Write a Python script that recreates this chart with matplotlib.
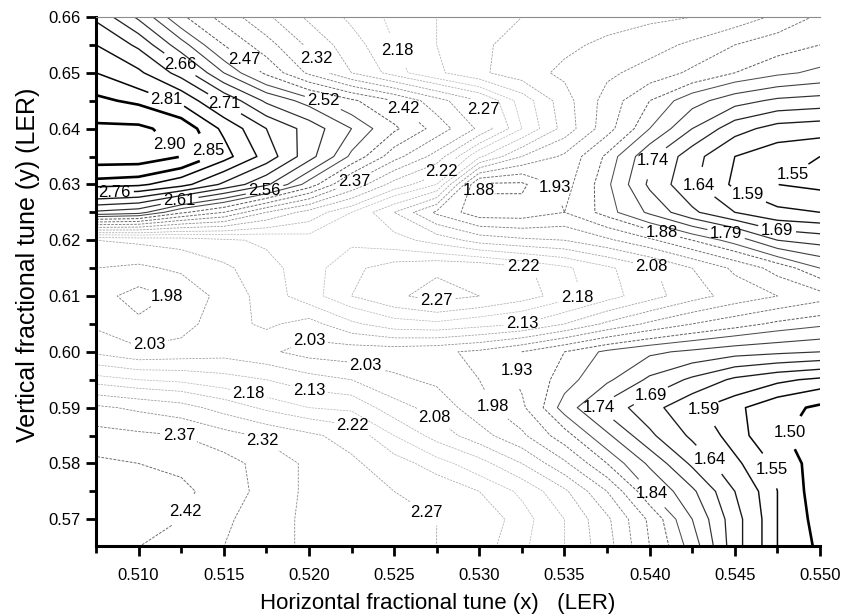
import numpy as np
import matplotlib
matplotlib.use("Agg")
import matplotlib.pyplot as plt
from matplotlib.ticker import MultipleLocator

plt.rcParams['font.family'] = ['Liberation Sans', 'DejaVu Sans']

# grid of tunes (columns = horizontal tune, rows = vertical tune, top row first)
qx = [0.5075, 0.510, 0.5125, 0.515, 0.5175, 0.520, 0.5225, 0.525, 0.5275,
      0.530, 0.5325, 0.535, 0.5375, 0.540, 0.5425, 0.545, 0.5475, 0.550]
qy = [0.660, 0.655, 0.650, 0.645, 0.640, 0.635, 0.630, 0.625, 0.620, 0.615,
      0.610, 0.605, 0.600, 0.595, 0.590, 0.585, 0.580, 0.575, 0.570, 0.565]
lum = [
    [2.70, 2.60, 2.48, 2.40, 2.33, 2.26, 2.21, 2.17, 2.13, 2.10, 2.08, 2.06, 2.05, 2.04, 2.03, 2.01, 1.97, 1.92],
    [2.76, 2.70, 2.58, 2.47, 2.39, 2.31, 2.24, 2.18, 2.13, 2.09, 2.06, 2.04, 2.02, 2.00, 1.97, 1.93, 1.90, 1.88],
    [2.81, 2.77, 2.69, 2.56, 2.46, 2.36, 2.27, 2.20, 2.14, 2.09, 2.05, 2.02, 1.99, 1.96, 1.92, 1.88, 1.85, 1.83],
    [2.86, 2.84, 2.80, 2.70, 2.60, 2.54, 2.48, 2.42, 2.34, 2.27, 2.16, 2.05, 1.96, 1.88, 1.81, 1.76, 1.73, 1.72],
    [2.91, 2.91, 2.88, 2.80, 2.71, 2.64, 2.56, 2.48, 2.40, 2.31, 2.18, 2.06, 1.95, 1.84, 1.74, 1.66, 1.62, 1.61],
    [2.93, 2.93, 2.90, 2.83, 2.74, 2.63, 2.51, 2.39, 2.30, 2.14, 2.03, 1.97, 1.87, 1.75, 1.66, 1.59, 1.56, 1.55],
    [2.83, 2.82, 2.78, 2.70, 2.62, 2.50, 2.36, 2.25, 2.18, 1.87, 1.87, 1.95, 1.85, 1.73, 1.65, 1.58, 1.55, 1.54],
    [2.60, 2.58, 2.48, 2.42, 2.32, 2.25, 2.18, 2.08, 1.97, 1.90, 1.90, 1.93, 1.86, 1.78, 1.70, 1.64, 1.60, 1.59],
    [2.08, 2.09, 2.10, 2.12, 2.14, 2.16, 2.17, 2.15, 2.11, 2.06, 2.04, 2.03, 1.99, 1.94, 1.88, 1.82, 1.74, 1.72],
    [2.03, 2.02, 2.04, 2.07, 2.11, 2.16, 2.21, 2.24, 2.26, 2.26, 2.23, 2.19, 2.14, 2.09, 2.03, 1.97, 1.91, 1.84],
    [2.00, 1.96, 1.99, 2.05, 2.10, 2.16, 2.22, 2.26, 2.29, 2.27, 2.24, 2.20, 2.15, 2.10, 2.05, 2.01, 1.98, 1.95],
    [2.02, 1.99, 2.01, 2.06, 2.09, 2.06, 2.12, 2.16, 2.17, 2.15, 2.13, 2.08, 2.02, 1.97, 1.93, 1.90, 1.87, 1.85],
    [2.07, 2.04, 2.05, 2.06, 2.04, 2.01, 2.00, 2.00, 1.99, 1.97, 1.93, 1.88, 1.83, 1.80, 1.78, 1.76, 1.75, 1.74],
    [2.20, 2.18, 2.17, 2.15, 2.13, 2.10, 2.08, 2.04, 2.02, 1.98, 1.92, 1.86, 1.80, 1.73, 1.68, 1.63, 1.60, 1.58],
    [2.33, 2.31, 2.29, 2.25, 2.21, 2.18, 2.17, 2.10, 2.06, 2.00, 1.94, 1.82, 1.72, 1.66, 1.60, 1.56, 1.52, 1.49],
    [2.39, 2.38, 2.37, 2.34, 2.31, 2.28, 2.25, 2.18, 2.11, 2.05, 1.99, 1.90, 1.80, 1.70, 1.63, 1.57, 1.51, 1.47],
    [2.43, 2.42, 2.41, 2.39, 2.35, 2.31, 2.28, 2.24, 2.20, 2.15, 2.08, 1.99, 1.88, 1.78, 1.68, 1.60, 1.54, 1.47],
    [2.45, 2.44, 2.43, 2.40, 2.35, 2.31, 2.28, 2.27, 2.25, 2.22, 2.17, 2.09, 1.98, 1.84, 1.75, 1.64, 1.55, 1.47],
    [2.45, 2.44, 2.42, 2.38, 2.34, 2.31, 2.29, 2.28, 2.27, 2.25, 2.20, 2.13, 2.04, 1.92, 1.79, 1.66, 1.55, 1.48],
    [2.43, 2.42, 2.40, 2.37, 2.34, 2.31, 2.29, 2.28, 2.27, 2.24, 2.19, 2.13, 2.05, 1.93, 1.82, 1.66, 1.55, 1.49],
]
levels = [1.50, 1.55, 1.59, 1.64, 1.69, 1.74, 1.79, 1.84, 1.88, 1.93, 1.98,
          2.03, 2.08, 2.13, 2.18, 2.22, 2.27, 2.32, 2.37, 2.42, 2.47, 2.52,
          2.56, 2.61, 2.66, 2.71, 2.76, 2.81, 2.85, 2.90]

# where the contour labels sit in the original
label_pos = [(0.5124, 0.6514), (0.5162, 0.6523), (0.5202, 0.6519), (0.5250, 0.6537),
             (0.5115, 0.6442), (0.5150, 0.6442), (0.5208, 0.6446), (0.5256, 0.6437),
             (0.5300, 0.6430), (0.5115, 0.6362), (0.5142, 0.6362), (0.5086, 0.6286),
             (0.5124, 0.6272), (0.5174, 0.6290), (0.5227, 0.6304), (0.5278, 0.6322),
             (0.5300, 0.6290), (0.5341, 0.6290), (0.5400, 0.6344), (0.5426, 0.6286),
             (0.5459, 0.6290), (0.5482, 0.6326), (0.5407, 0.6213), (0.5445, 0.6213),
             (0.5475, 0.6222), (0.5325, 0.6138), (0.5400, 0.6138), (0.5124, 0.6093),
             (0.5275, 0.6093), (0.5358, 0.6090), (0.5325, 0.6053), (0.5107, 0.6003),
             (0.5200, 0.6021), (0.5233, 0.5971), (0.5316, 0.5971), (0.5165, 0.5932),
             (0.5200, 0.5932), (0.5275, 0.5892), (0.5302, 0.5892), (0.5368, 0.5892),
             (0.5401, 0.5919), (0.5430, 0.5892), (0.5124, 0.5860), (0.5174, 0.5851),
             (0.5225, 0.5863), (0.5485, 0.5851), (0.5437, 0.5813), (0.5471, 0.5788),
             (0.5400, 0.5743), (0.5124, 0.5720), (0.5265, 0.5695)]

X = np.array(qx)
Y = np.array(qy)[::-1]
Z = np.array(lum)[::-1]

# darker lines towards the extremes, faint in the middle (as in the scan)
cols, widths, styles = [], [], []
for lv in levels:
    d = min(1.0, abs(lv - 2.17) / 0.68)
    g = 0.72 * (1 - d) ** 1.3
    cols.append((g, g, g))
    w = 0.5 + 0.7 * d ** 1.5
    if d > 0.97:
        w = 1.9
    widths.append(w)
    styles.append((0, (3, 1.5)) if d < 0.45 else 'solid')

fig = plt.figure(figsize=(8.44, 6.16), dpi=100)
ax = fig.add_axes([0.1137, 0.1136, 0.8579, 0.8588])

cs = ax.contour(X, Y, Z, levels=levels, colors=cols, linewidths=widths,
                linestyles=styles)
ax.clabel(cs, fmt='%.2f', fontsize=12, inline=True, inline_spacing=3,
          manual=label_pos, colors='black')
for t in cs.labelTexts:
    t.set_rotation(0)
    t.set_color('black')

ax.set_xlim(0.5075, 0.550)
ax.set_ylim(0.5652, 0.660)
ax.xaxis.set_major_locator(MultipleLocator(0.005))
ax.xaxis.set_minor_locator(MultipleLocator(0.0025))
ax.yaxis.set_major_locator(MultipleLocator(0.01))
ax.yaxis.set_minor_locator(MultipleLocator(0.005))
ax.xaxis.set_major_formatter(plt.FormatStrFormatter('%.3f'))
ax.yaxis.set_major_formatter(plt.FormatStrFormatter('%.2f'))
ax.tick_params(which='major', direction='out', length=7, width=2, labelsize=12)
ax.tick_params(which='minor', direction='out', length=5, width=2)
ax.tick_params(axis='x', pad=9)
ax.tick_params(axis='y', pad=4)

for s in ['left', 'bottom']:
    ax.spines[s].set_linewidth(2.2)
ax.spines['right'].set_visible(False)
ax.spines['top'].set_linestyle((0, (2, 1)))
ax.spines['top'].set_color('0.55')
ax.spines['top'].set_linewidth(0.8)

ax.set_xlabel('Horizontal fractional tune (x)   (LER)', fontsize=16)
ax.set_ylabel('Vertical fractional tune (y) (LER)', fontsize=18)
ax.xaxis.set_label_coords(0.472, -0.089)
ax.yaxis.set_label_coords(-0.077, 0.531)

fig.savefig('out.png', dpi=100)
